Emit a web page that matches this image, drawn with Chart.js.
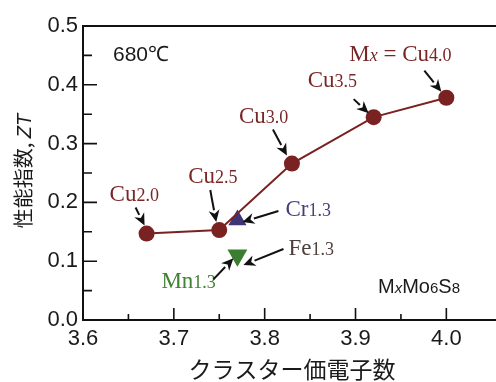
<!DOCTYPE html>
<html>
<head>
<meta charset="utf-8">
<script src="https://cdn.jsdelivr.net/npm/chart.js@4/dist/chart.umd.min.js"></script>
<style>
  html, body { margin: 0; padding: 0; background: #ffffff; }
  #wrap { width: 496px; height: 382px; }
</style>
</head>
<body>
<div id="wrap"><canvas id="zt" width="496" height="382"></canvas></div>
<script>
// Cu content x in CuxMo6S8, cluster valence electron count, and ZT at 680 °C
const cuContent = ['2.0', '2.5', '3.0', '3.5', '4.0'];
const cuElectrons = [3.67, 3.75, 3.83, 3.92, 4.00];
const cuZT = [0.147, 0.153, 0.266, 0.345, 0.378];

// Other metals M1.3Mo6S8
const dopantNames = ['Cr', 'Mn', 'Fe'];
const dopantContent = ['1.3', '1.3', '1.3'];
const dopantElectrons = [3.77, 3.77, 3.77];
const dopantZT = [0.170, 0.110, 0.102];

// Axis ticks
const xMajorTicks = [3.6, 3.7, 3.8, 3.9, 4.0];
const yMajorTicks = [0.0, 0.1, 0.2, 0.3, 0.4, 0.5];

const CU_RED = '#7a2222';
const CU_TEXT = '#7a2626';
const CR_BLUE = '#3f3576';
const CR_TEXT = '#4a3d7c';
const MN_GREEN = '#3b7d31';
const MN_TEXT = '#3f8232';
const FE_BROWN = '#5a4b44';
const FE_TEXT = '#4d403b';

const SERIF = '"Liberation Serif", "Times New Roman", serif';
const SANS = '"Liberation Sans", Arial, sans-serif';
const CJK = '"Noto Sans CJK JP", "Noto Sans CJK SC", sans-serif';

// Callout placement: offsets (px) from the marker for label baseline-left and arrow ends
const callouts = [
  { ds: 0, i: 0, tx: -37, ty: -33, a: [-11, -26, -2, -8] },
  { ds: 0, i: 1, tx: -31, ty: -47, a: [-9, -40, -3, -8] },
  { ds: 0, i: 2, tx: -53, ty: -41, a: [-19, -34, -5, -8] },
  { ds: 0, i: 3, tx: -66, ty: -30, a: [-20, -18, -5, -4] },
  { ds: 0, i: 4, tx: -97, ty: -37, a: [-22, -27, -5, -6], prefix: true },
  { ds: 1, i: 0, tx: 48, ty: -4, a: [41, -9, 5, 2] },
  { ds: 2, i: 0, tx: -76, ty: 33, a: [-24, 24, -4, 3] },
  { ds: 3, i: 0, tx: 51, ty: -5, a: [46, -11, 6, 5] }
];

function drawRuns(ctx, x, y, runs) {
  ctx.textBaseline = 'alphabetic';
  ctx.textAlign = 'left';
  let cx = x;
  for (const r of runs) {
    ctx.font = r.font;
    ctx.fillStyle = r.color;
    ctx.fillText(r.text, cx, y);
    cx += ctx.measureText(r.text).width;
  }
  return cx - x;
}

function runsWidth(ctx, runs) {
  let w = 0;
  for (const r of runs) { ctx.font = r.font; w += ctx.measureText(r.text).width; }
  return w;
}

function arrow(ctx, x0, y0, x1, y1) {
  const ang = Math.atan2(y1 - y0, x1 - x0);
  const head = 12, half = 5.5;
  const bx = x1 - head * Math.cos(ang), by = y1 - head * Math.sin(ang);
  ctx.strokeStyle = '#111111';
  ctx.fillStyle = '#111111';
  ctx.lineWidth = 2;
  ctx.beginPath();
  ctx.moveTo(x0, y0);
  ctx.lineTo(bx, by);
  ctx.stroke();
  ctx.beginPath();
  ctx.moveTo(x1, y1);
  ctx.lineTo(bx + half * Math.sin(ang), by - half * Math.cos(ang));
  ctx.lineTo(x1 - (head * 0.7) * Math.cos(ang), y1 - (head * 0.7) * Math.sin(ang));
  ctx.lineTo(bx - half * Math.sin(ang), by + half * Math.cos(ang));
  ctx.closePath();
  ctx.fill();
}

function calloutRuns(c) {
  const big = '23px ' + SERIF, small = '18px ' + SERIF;
  if (c.ds === 0) {
    const runs = [];
    if (c.prefix) {
      runs.push({ text: 'M', font: big, color: CU_TEXT });
      runs.push({ text: 'x', font: 'italic ' + small, color: CU_TEXT });
      runs.push({ text: ' = ', font: big, color: CU_TEXT });
    }
    runs.push({ text: 'Cu', font: big, color: CU_TEXT });
    runs.push({ text: cuContent[c.i], font: small, color: CU_TEXT });
    return runs;
  }
  const k = c.ds - 1;
  const col = [CR_TEXT, MN_TEXT, FE_TEXT][k];
  return [
    { text: dopantNames[k], font: big, color: col },
    { text: dopantContent[k], font: small, color: col }
  ];
}

const decorations = {
  id: 'decorations',
  beforeDatasetsDraw(chart) {
    const ctx = chart.ctx;
    const xs = chart.scales.x, ys = chart.scales.y;
    const { left, right, top, bottom } = chart.chartArea;
    ctx.save();
    ctx.strokeStyle = '#111111';
    ctx.lineWidth = 2;
    ctx.beginPath();
    ctx.moveTo(left, top); ctx.lineTo(chart.width, top);
    ctx.moveTo(left, top - 1); ctx.lineTo(left, bottom + 1);
    ctx.moveTo(left - 1, bottom); ctx.lineTo(chart.width, bottom);
    ctx.stroke();
    ctx.lineWidth = 1.6;
    ctx.beginPath();
    // inward ticks on x axis (majors and midpoints)
    for (let k = 0; k < xMajorTicks.length; k++) {
      const px = xs.getPixelForValue(xMajorTicks[k]);
      ctx.moveTo(px, bottom); ctx.lineTo(px, bottom - 12);
      const mid = xMajorTicks[k] + 0.05;
      if (mid < xs.max) {
        const pm = xs.getPixelForValue(mid);
        ctx.moveTo(pm, bottom); ctx.lineTo(pm, bottom - 6);
      }
    }
    // inward ticks on y axis
    for (let k = 0; k < yMajorTicks.length; k++) {
      const py = ys.getPixelForValue(yMajorTicks[k]);
      ctx.moveTo(left, py); ctx.lineTo(left + 14, py);
      if (k < yMajorTicks.length - 1) {
        const pm = ys.getPixelForValue(yMajorTicks[k] + 0.05);
        ctx.moveTo(left, pm); ctx.lineTo(left + 9, pm);
      }
    }
    ctx.stroke();

    // axis titles
    ctx.fillStyle = '#1a1a1a';
    ctx.font = '23px ' + CJK;
    ctx.textAlign = 'center';
    ctx.textBaseline = 'middle';
    ctx.fillText('クラスター価電子数', 292, 369);

    const yRuns = [
      { text: '性能指数, ', font: '20px ' + CJK, color: '#1a1a1a' },
      { text: 'ZT', font: 'italic 20px ' + SANS, color: '#1a1a1a' }
    ];
    ctx.save();
    ctx.translate(31, 171);
    ctx.rotate(-Math.PI / 2);
    const w = runsWidth(ctx, yRuns);
    drawRuns(ctx, -w / 2, 0, yRuns);
    ctx.restore();

    // panel notes
    drawRuns(ctx, 113, 61, [{ text: '680℃', font: '21px ' + SANS, color: '#1a1a1a' }]);
    drawRuns(ctx, 378, 293, [
      { text: 'M', font: '20px ' + SANS, color: '#1a1a1a' },
      { text: 'x', font: 'italic 15px ' + SANS, color: '#1a1a1a' },
      { text: 'Mo', font: '20px ' + SANS, color: '#1a1a1a' },
      { text: '6', font: '15px ' + SANS, color: '#1a1a1a' },
      { text: 'S', font: '20px ' + SANS, color: '#1a1a1a' },
      { text: '8', font: '15px ' + SANS, color: '#1a1a1a' }
    ]);
    ctx.restore();
  },
  afterDatasetsDraw(chart) {
    const ctx = chart.ctx;
    ctx.save();
    for (const c of callouts) {
      const el = chart.getDatasetMeta(c.ds).data[c.i];
      const px = el.x, py = el.y;
      drawRuns(ctx, px + c.tx, py + c.ty, calloutRuns(c));
      arrow(ctx, px + c.a[0], py + c.a[1], px + c.a[2], py + c.a[3]);
    }
    ctx.restore();
  }
};

const pts = (xs, ys) => xs.map((v, k) => ({ x: v, y: ys[k] }));

new Chart(document.getElementById('zt'), {
  type: 'scatter',
  data: {
    datasets: [
      {
        label: 'Cu',
        data: pts(cuElectrons, cuZT),
        showLine: true,
        borderColor: CU_RED,
        borderWidth: 2,
        backgroundColor: CU_RED,
        pointBorderColor: CU_RED,
        pointRadius: 8,
        pointBorderWidth: 0
      },
      {
        label: 'Cr',
        data: pts([dopantElectrons[0]], [dopantZT[0]]),
        pointStyle: 'triangle',
        backgroundColor: CR_BLUE,
        borderColor: CR_BLUE,
        pointRadius: 10.5,
        pointBorderWidth: 0
      },
      {
        label: 'Mn',
        data: pts([dopantElectrons[1]], [dopantZT[1]]),
        pointStyle: 'triangle',
        rotation: 180,
        backgroundColor: MN_GREEN,
        borderColor: MN_GREEN,
        pointRadius: 11.5,
        pointBorderWidth: 0
      },
      {
        label: 'Fe',
        data: pts([dopantElectrons[2]], [dopantZT[2]]),
        pointStyle: 'triangle',
        rotation: 180,
        backgroundColor: FE_BROWN,
        borderColor: FE_BROWN,
        pointRadius: 6,
        pointBorderWidth: 0
      }
    ]
  },
  options: {
    responsive: false,
    animation: false,
    devicePixelRatio: 1,
    layout: { padding: { top: 26, right: 0, left: 0, bottom: 0 } },
    plugins: { legend: { display: false }, tooltip: { enabled: false } },
    scales: {
      x: {
        type: 'linear',
        min: 3.6,
        max: 4.042,
        afterBuildTicks: s => { s.ticks = xMajorTicks.map(v => ({ value: v })); },
        afterFit: s => { s.height = 62; },
        grid: { display: false, drawTicks: false },
        border: { display: false },
        ticks: {
          autoSkip: false, maxRotation: 0, padding: 6,
          color: '#1a1a1a',
          font: { family: SANS, size: 22 },
          callback: v => Number(v).toFixed(1)
        }
      },
      y: {
        type: 'linear',
        min: 0,
        max: 0.5,
        afterBuildTicks: s => { s.ticks = yMajorTicks.map(v => ({ value: v })); },
        afterFit: s => { s.width = 83; },
        grid: { display: false, drawTicks: false },
        border: { display: false },
        ticks: {
          autoSkip: false, padding: 5,
          color: '#1a1a1a',
          font: { family: SANS, size: 22 },
          callback: v => Number(v).toFixed(1)
        }
      }
    }
  },
  plugins: [decorations]
});
</script>
</body>
</html>
